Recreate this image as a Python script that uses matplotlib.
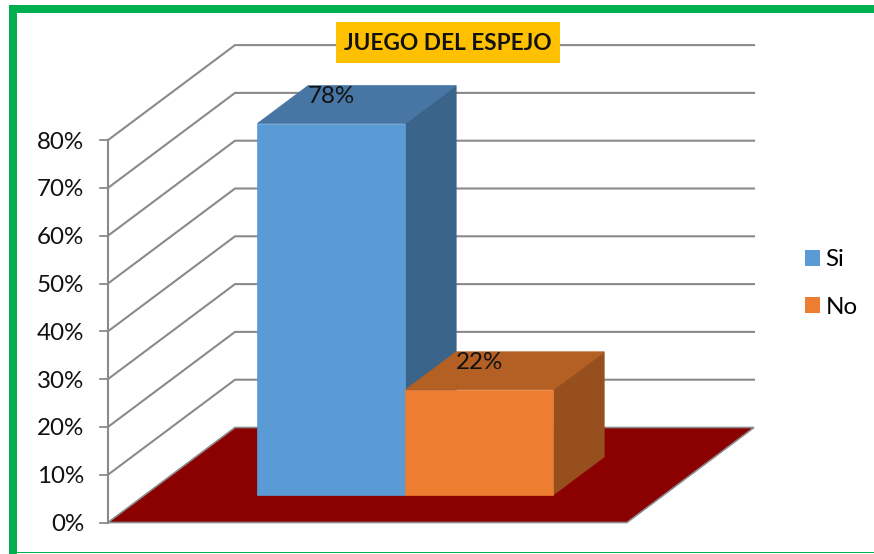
#!/usr/bin/env python3
"""Juego del espejo: barras 3D dibujadas con proyeccion oblicua"""

import matplotlib
matplotlib.use("Agg")
import matplotlib.pyplot as plt
from matplotlib.patches import Patch, Polygon, Rectangle

series = ["Si", "No"]
values = [0.777, 0.22]
value_labels = ["78%", "22%"]
ticks = [0.0, 0.1, 0.2, 0.3, 0.4, 0.5, 0.6, 0.7, 0.8]
tick_labels = ["0%", "10%", "20%", "30%", "40%", "50%", "60%", "70%", "80%"]
title = "JUEGO DEL ESPEJO"

FRONT = ["#5B9BD5", "#ED7D31"]
TOP = ["#4776A4", "#B45F23"]
SIDE = ["#3A6489", "#97501D"]
FLOOR = "#8B0000"
GRID = "#8A8A8A"
GREEN = "#00B050"

# proyeccion oblicua: pixeles de la imagen
X0, Y0 = 108, 522.5
WIDTH, HEIGHT = 519, 478      # eje x (0-1), eje y (1 = 100%)
DX, DY = 127, -95             # profundidad 0-1

BAR_START, BAR_WIDTH = 0.2168, 0.2852
DEPTH_START, DEPTH_END = 0.29, 0.69


def project(x, value, depth):
    return (X0 + x * WIDTH + depth * DX, Y0 - value * HEIGHT + depth * DY)


def face(ax, corners, color):
    pts = [project(*c) for c in corners]
    ax.add_patch(Polygon(pts, closed=True, fc=color, ec=color, lw=0.5, zorder=3))


plt.rcParams["font.family"] = ["Lato", "DejaVu Sans"]
fig = plt.figure(figsize=(8.74, 5.54), dpi=100)
ax = fig.add_axes([0, 0, 1, 1])
ax.set_xlim(0, 874)
ax.set_ylim(554, 0)
ax.axis("off")

# marco verde
ax.add_patch(Rectangle((9, 5), 7.5, 549, fc=GREEN, ec="none"))
ax.add_patch(Rectangle((9, 5), 865, 7.5, fc=GREEN, ec="none"))
ax.add_patch(Rectangle((9, 551.6), 865, 1.6, fc=GREEN, ec="none"))

# suelo
ax.add_patch(Polygon([project(0, 0, 0), project(1, 0, 0), project(1, 0, 1), project(0, 0, 1)],
                     closed=True, fc=FLOOR, ec=GRID, lw=1.2, zorder=2))

# rejilla y eje
for t, lab in zip(ticks, tick_labels):
    a, b, c = project(0, t, 0), project(0, t, 1), project(1, t, 1)
    if t > 0:
        ax.plot([a[0], b[0], c[0]], [a[1], b[1], c[1]], color=GRID, lw=1.5, zorder=1)
    ax.plot([a[0] - 8, a[0]], [a[1], a[1]], color=GRID, lw=1.3, zorder=1)
    ax.text(a[0] - 24, a[1] + 2, lab, ha="right", va="center", fontsize=17.4, color="#111111")
bottom, top = project(0, 0, 0), project(0, ticks[-1], 0)
ax.plot([bottom[0], top[0]], [bottom[1], top[1]], color=GRID, lw=1.5, zorder=1)

# barras
for i, v in enumerate(values):
    x1 = BAR_START + i * BAR_WIDTH
    x2 = x1 + BAR_WIDTH
    d1, d2 = DEPTH_START, DEPTH_END
    face(ax, [(x2, 0, d1), (x2, 0, d2), (x2, v, d2), (x2, v, d1)], SIDE[i])
    face(ax, [(x1, v, d1), (x2, v, d1), (x2, v, d2), (x1, v, d2)], TOP[i])
    face(ax, [(x1, 0, d1), (x2, 0, d1), (x2, v, d1), (x1, v, d1)], FRONT[i])
    lx, ly = project((x1 + x2) / 2, v, d2)
    ax.text(lx - 51, ly + 11, value_labels[i], ha="center", va="center",
            fontsize=17.4, color="#111111", zorder=5)

# titulo
ax.add_patch(Rectangle((336, 22), 224, 41, fc="#FFC000", ec="none", zorder=6))
ax.text(448, 43.5, title, ha="center", va="center", fontsize=16.3, fontweight="bold",
        color="#111111", zorder=7)

# leyenda
handles = [Patch(fc=c, ec="none", label=s) for c, s in zip(FRONT, series)]
ax.legend(handles=handles, loc="upper left", bbox_to_anchor=(798 / 874, 1 - 242 / 554),
          frameon=False, fontsize=17.4, handlelength=0.62, handleheight=0.62,
          handletextpad=0.22, labelspacing=1.1, borderpad=0.3, borderaxespad=0)

fig.savefig("out.png", dpi=100, facecolor="white")
